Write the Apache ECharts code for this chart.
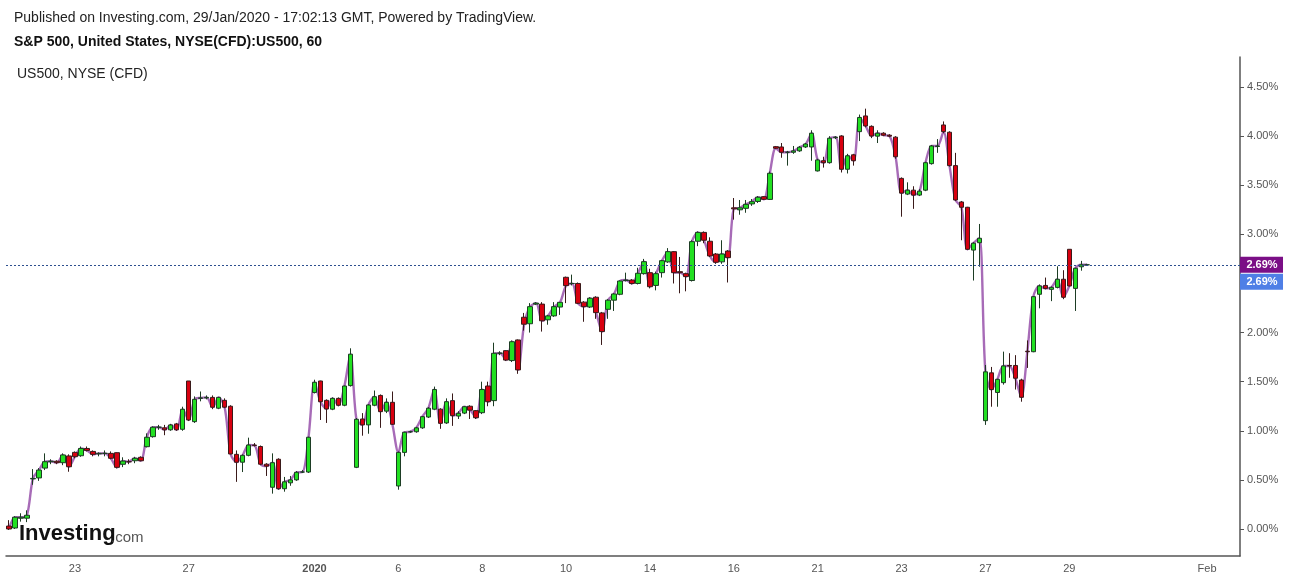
<!DOCTYPE html>
<html><head><meta charset="utf-8">
<script src="https://cdn.jsdelivr.net/npm/echarts@6/dist/echarts.min.js"></script>
<style>html,body{margin:0;padding:0;background:#fff}#c{width:1299px;height:580px}</style>
</head><body><div id="c"></div><script>
// Hourly candles, % change (O, C, L, H)
const opens=[0.03,0.01,0.11,0.11,0.51,0.52,0.62,0.685,0.69,0.675,
0.744,0.78,0.746,0.82,0.79,0.765,0.77,0.77,0.777,0.659,
0.685,0.695,0.73,0.838,0.94,1.036,1.03,1.01,1.07,1.015,
1.507,1.093,1.33,1.335,1.34,1.23,1.31,1.25,0.76,0.68,
0.75,0.855,0.84,0.66,0.425,0.71,0.41,0.47,0.50,0.58,
0.58,1.39,1.507,1.31,1.22,1.33,1.26,1.46,0.628,1.12,
1.06,1.26,1.36,1.20,1.29,0.438,0.78,0.99,0.99,1.03,
1.14,1.22,1.22,1.08,1.307,1.15,1.18,1.25,1.205,1.184,
1.456,1.307,1.79,1.816,1.715,1.925,2.156,2.09,2.29,2.29,
2.13,2.17,2.26,2.563,2.50,2.50,2.31,2.26,2.36,2.20,
2.237,2.33,2.39,2.53,2.535,2.50,2.60,2.61,2.48,2.61,
2.72,2.824,2.62,2.60,2.53,2.93,3.02,2.93,2.80,2.72,
2.83,3.27,3.25,3.265,3.31,3.335,3.384,3.356,3.893,3.89,
3.836,3.836,3.85,3.89,3.89,3.646,3.75,3.73,3.985,4.002,
3.663,3.81,4.046,4.206,4.10,4.00,4.03,4.01,3.99,3.57,
3.41,3.45,3.40,3.45,3.72,3.895,4.114,4.04,3.70,3.33,
3.276,2.84,2.915,1.103,1.59,1.39,1.49,1.665,1.665,1.517,
1.81,1.805,2.39,2.48,2.44,2.46,2.543,2.848,2.45,2.67,2.69];
const closes=[0.00,0.12,0.12,0.14,0.515,0.60,0.685,0.69,0.675,0.754,
0.634,0.736,0.82,0.80,0.76,0.77,0.77,0.72,0.628,0.692,
0.685,0.72,0.695,0.934,1.036,1.036,1.01,1.059,1.01,1.219,
1.11,1.32,1.335,1.34,1.24,1.34,1.24,0.764,0.68,0.75,
0.855,0.85,0.66,0.64,0.675,0.41,0.48,0.50,0.577,0.58,
0.934,1.494,1.296,1.222,1.33,1.26,1.456,1.78,1.117,1.06,
1.263,1.347,1.195,1.29,1.066,0.78,0.985,0.99,1.03,1.144,
1.23,1.42,1.076,1.296,1.154,1.178,1.245,1.21,1.133,1.42,
1.296,1.789,1.79,1.72,1.907,1.62,2.085,2.264,2.30,2.12,
2.17,2.264,2.308,2.478,2.50,2.298,2.264,2.35,2.203,2.01,
2.33,2.393,2.525,2.535,2.50,2.604,2.722,2.467,2.60,2.732,
2.824,2.61,2.61,2.57,2.926,3.02,2.94,2.78,2.716,2.80,
2.763,3.26,3.27,3.306,3.333,3.378,3.357,3.622,3.877,3.836,
3.836,3.85,3.887,3.92,4.03,3.758,3.73,3.979,3.99,3.663,
3.80,3.75,4.19,4.104,4.002,4.03,4.01,4.0,3.79,3.42,
3.45,3.40,3.44,3.73,3.90,3.90,4.046,3.70,3.35,3.276,
2.848,2.91,2.96,1.60,1.42,1.524,1.66,1.66,1.535,1.341,
1.805,2.366,2.475,2.45,2.46,2.543,2.36,2.475,2.655,2.69,2.69];
const lows=[-0.01,0.00,0.075,0.07,0.45,0.49,0.60,0.66,0.66,0.65,
0.583,0.72,0.735,0.79,0.74,0.74,0.74,0.71,0.617,0.63,
0.66,0.67,0.69,0.83,0.93,1.01,0.955,1.00,1.00,1.00,
1.10,1.08,1.30,1.32,1.22,1.22,1.23,0.76,0.48,0.58,
0.74,0.84,0.65,0.54,0.36,0.40,0.38,0.44,0.49,0.57,
0.57,1.38,1.11,1.08,1.21,1.25,1.25,1.45,0.62,0.95,
0.97,1.25,1.03,1.18,1.06,0.40,0.74,0.98,0.98,1.02,
1.13,1.21,1.02,1.07,1.05,1.12,1.17,1.12,1.12,1.17,
1.25,1.25,1.77,1.71,1.70,1.58,2.02,2.00,2.28,2.01,
2.08,2.16,2.18,2.30,2.48,2.29,2.11,2.25,2.14,1.874,
2.14,2.22,2.38,2.52,2.49,2.49,2.59,2.45,2.43,2.56,
2.71,2.50,2.40,2.42,2.52,2.88,2.91,2.77,2.70,2.70,
2.51,3.15,3.20,3.22,3.29,3.32,3.35,3.35,3.87,3.78,
3.70,3.82,3.84,3.88,3.75,3.64,3.68,3.72,3.97,3.63,
3.62,3.70,3.95,4.09,3.98,3.93,4.00,3.99,3.77,3.18,
3.40,3.26,3.39,3.44,3.71,3.83,4.03,3.69,3.34,2.94,
2.84,2.53,2.67,1.06,1.245,1.245,1.47,1.54,1.42,1.296,
1.64,1.80,2.247,2.44,2.32,2.45,2.34,2.47,2.22,2.63,2.68];
const highs=[0.09,0.13,0.16,0.19,0.61,0.62,0.77,0.71,0.70,0.77,
0.76,0.79,0.84,0.84,0.80,0.78,0.80,0.79,0.78,0.73,
0.71,0.735,0.74,0.974,1.045,1.06,1.06,1.07,1.08,1.245,
1.507,1.35,1.40,1.36,1.36,1.345,1.33,1.26,0.80,0.76,
0.93,0.875,0.85,0.67,0.77,0.72,0.53,0.54,0.59,0.60,
0.94,1.52,1.51,1.32,1.34,1.34,1.46,1.84,1.13,1.18,
1.27,1.41,1.37,1.33,1.40,0.79,0.99,1.00,1.04,1.15,
1.24,1.45,1.23,1.33,1.38,1.20,1.25,1.26,1.21,1.50,
1.50,1.897,1.81,1.82,1.92,1.93,2.20,2.30,2.31,2.31,
2.18,2.31,2.31,2.57,2.59,2.51,2.32,2.36,2.37,2.21,
2.34,2.40,2.53,2.61,2.545,2.66,2.75,2.65,2.62,2.74,
2.86,2.83,2.77,2.61,2.94,3.03,3.03,2.97,2.81,2.94,
2.84,3.37,3.35,3.35,3.36,3.39,3.39,3.64,3.90,3.93,
3.85,3.90,3.90,3.93,4.06,3.77,3.79,4.00,4.00,4.01,
3.82,3.82,4.22,4.28,4.11,4.06,4.04,4.02,4.00,3.58,
3.53,3.49,3.46,3.74,3.91,3.97,4.15,4.05,3.83,3.34,
3.28,2.92,3.106,1.67,1.65,1.53,1.806,1.79,1.77,1.53,
1.92,2.37,2.49,2.56,2.47,2.675,2.635,2.85,2.66,2.73,2.70];
// x-axis tick labels (category index of the first hourly bar of that day)
const tickIndex=[11,30,51,65,79,93,107,121,135,149,163,177,200];
const tickText=['23','27','2020','6','8','10','14','16','21','23','27','29','Feb'];
const totalSlots=206;
const lastValue=2.69;

const categories=[];
for(let i=0;i<totalSlots;i++){const k=tickIndex.indexOf(i);categories.push(k>=0?tickText[k]:'b'+i);}
const candleData=opens.map((o,i)=>[o,closes[i],lows[i],highs[i]]);
const isTick=(idx)=>tickIndex.indexOf(idx)>=0;

const chart=echarts.init(document.getElementById('c'));
const FONT='Arial, "Liberation Sans", sans-serif';
const logo=[
  {type:'text',left:19,top:523,z:50,style:{text:'Investing',font:'bold 22px '+FONT,fill:'#111'}},
  {type:'text',left:111,top:530,z:50,style:{text:'.com',font:'15px '+FONT,fill:'#555'}}
];
chart.setOption({
  animation:false,
  backgroundColor:'#ffffff',
  title:[
    {text:'Published on Investing.com, 29/Jan/2020 - 17:02:13 GMT, Powered by TradingView.',left:14,top:11,padding:0,
     textStyle:{fontSize:14,fontWeight:'normal',color:'#222',fontFamily:FONT}},
    {text:'S&P 500, United States, NYSE(CFD):US500, 60',left:14,top:35,padding:0,
     textStyle:{fontSize:14,fontWeight:'bold',color:'#111',fontFamily:FONT}},
    {text:'US500, NYSE (CFD)',left:17,top:67,padding:0,
     textStyle:{fontSize:14,fontWeight:'normal',color:'#222',fontFamily:FONT}}
  ],
  grid:{left:6,right:59,top:57,bottom:24},
  xAxis:{type:'category',data:categories,boundaryGap:true,
    axisLine:{onZero:false,lineStyle:{color:'#555',width:1.5}},
    axisTick:{interval:(i)=>isTick(i),alignWithLabel:true,length:4,lineStyle:{color:'#555'}},
    axisLabel:{interval:(i)=>isTick(i),color:'#555',fontSize:11,fontFamily:FONT,margin:7,
      formatter:(v)=>v==='2020'?'{b|2020}':v,rich:{b:{fontWeight:'bold',fontSize:11,color:'#555',fontFamily:FONT}}},
    splitLine:{show:false}},
  yAxis:{type:'value',position:'right',min:-0.275,max:4.806,splitNumber:10,
    axisLine:{show:true,lineStyle:{color:'#555',width:1.5}},
    axisTick:{show:true,length:4,lineStyle:{color:'#555'}},
    axisLabel:{color:'#555',fontSize:11,fontFamily:FONT,margin:7,showMinLabel:false,showMaxLabel:false,
      formatter:(v)=>{const r=v/0.5;return Math.abs(r-Math.round(r))<1e-6?v.toFixed(2)+'%':'';}},
    splitLine:{show:false}},
  series:[
    {type:'line',data:closes,showSymbol:false,smooth:0.3,z:1,
     lineStyle:{color:'rgba(145,70,165,0.8)',width:2.4},silent:true},
    {type:'candlestick',data:candleData,barWidth:5,z:3,
     itemStyle:{color:'#22e022',color0:'#d80010',borderColor:'#1d3d24',borderColor0:'#3a1a1a',borderWidth:1},
     markLine:{symbol:'none',silent:true,label:{show:false},
       lineStyle:{type:[2,2],color:'#2d4f8f',width:1},data:[{yAxis:lastValue}]}}
  ],
  graphic:logo
});
const py=chart.convertToPixel({yAxisIndex:0},lastValue);
const ax=chart.convertToPixel({xAxisIndex:0},totalSlots-1)+3;
chart.setOption({graphic:logo.concat([
  {type:'rect',z:100,shape:{x:ax,y:py-8,width:43,height:16},style:{fill:'#7b0f86'}},
  {type:'text',z:101,x:ax+22,y:py,style:{text:lastValue.toFixed(2)+'%',font:'bold 11px '+FONT,fill:'#fff',align:'center',verticalAlign:'middle'}},
  {type:'rect',z:100,shape:{x:ax,y:py+9,width:43,height:16},style:{fill:'#4f7fe6'}},
  {type:'text',z:101,x:ax+22,y:py+17,style:{text:lastValue.toFixed(2)+'%',font:'bold 11px '+FONT,fill:'#fff',align:'center',verticalAlign:'middle'}}
])});
</script></body></html>
